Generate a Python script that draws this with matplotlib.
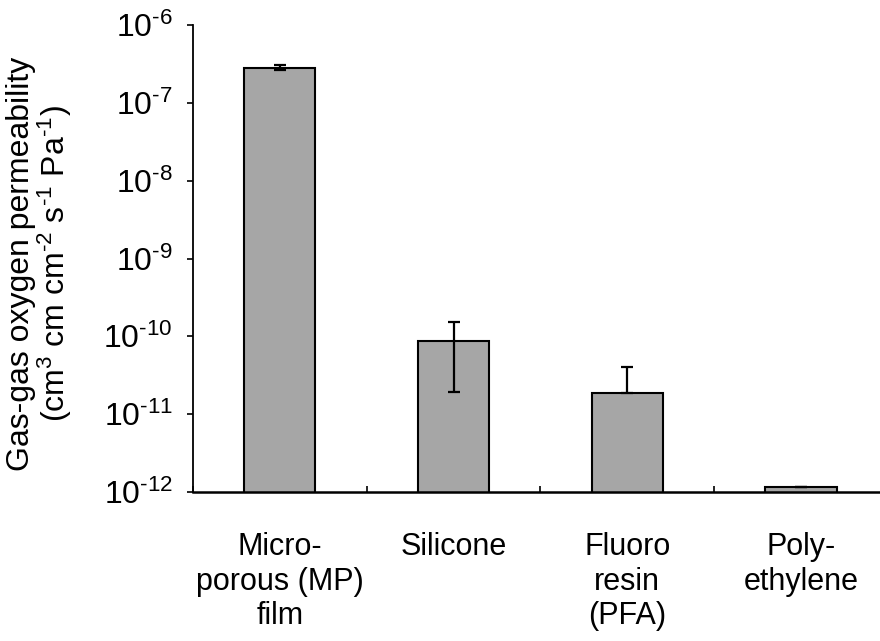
import matplotlib
matplotlib.use("Agg")
import matplotlib.pyplot as plt
import numpy as np
from matplotlib.ticker import FixedLocator, LogLocator, NullLocator, FuncFormatter

plt.rcParams['font.family'] = ['Liberation Sans', 'DejaVu Sans']
plt.rcParams['mathtext.fontset'] = 'custom'
plt.rcParams['mathtext.rm'] = 'Liberation Sans'
plt.rcParams['mathtext.it'] = 'Liberation Sans:italic'
plt.rcParams['mathtext.bf'] = 'Liberation Sans:bold'

categories = ["Micro-\nporous (MP)\nfilm", "Silicone", "Fluoro\nresin\n(PFA)", "Poly-\nethylene"]
values = [2.82e-7, 8.7e-11, 1.86e-11, 1.16e-12]
err_low = [2.0e-8, 6.8e-11, 0.0, 0.0]
err_high = [2.0e-8, 6.8e-11, 2.2e-11, 0.0]
ylabel = ("Gas-gas oxygen permeability\n"
          r"(cm$^{3}$ cm cm$^{\text{-}2}$ s$^{\text{-}1}$ Pa$^{\text{-}1}$)")

fig = plt.figure(figsize=(8.8, 6.41), dpi=100)
ax = fig.add_axes([193/880, (641-492)/641, 4*173.7/880, (492-25)/641])

x = list(range(len(categories)))
ax.bar(x, values, width=0.41, color='#A6A6A6', edgecolor='black', linewidth=1.5, zorder=2)
ax.errorbar(x, values, yerr=[err_low, err_high], fmt='none', ecolor='black',
            elinewidth=1.6, capsize=4.5, capthick=1.6, zorder=3)

ax.set_yscale('log')
ax.set_ylim(1e-12, 1e-6)
ax.set_xlim(-0.5, 3.5)
ax.yaxis.set_major_locator(LogLocator(base=10, numticks=10))
ax.yaxis.set_minor_locator(NullLocator())


def fmt(v, pos):
    e = int(round(np.log10(v)))
    return r"10$^{\text{-}%d}$" % (-e) if e < 0 else r"10$^{%d}$" % e


ax.yaxis.set_major_formatter(FuncFormatter(fmt))

ax.set_xticks(x)
ax.set_xticklabels(categories, fontsize=22, linespacing=1.2)
ax.xaxis.set_minor_locator(FixedLocator([-0.5, 0.5, 1.5, 2.5]))
ax.tick_params(axis='x', which='major', length=0, pad=29)
ax.tick_params(axis='x', which='minor', direction='in', length=4, width=1.2)
ax.tick_params(axis='y', which='major', direction='out', length=4.5, width=1.2, labelsize=23, pad=10)

for s in ['top', 'right']:
    ax.spines[s].set_visible(False)
ax.spines['left'].set_linewidth(1.3)
ax.spines['bottom'].set_linewidth(1.8)

fig.text(40/880, 1 - 264/641, ylabel, rotation=90, ha='center', va='center',
         fontsize=23, linespacing=1.0, multialignment='center')

fig.savefig("out.png", dpi=100)
